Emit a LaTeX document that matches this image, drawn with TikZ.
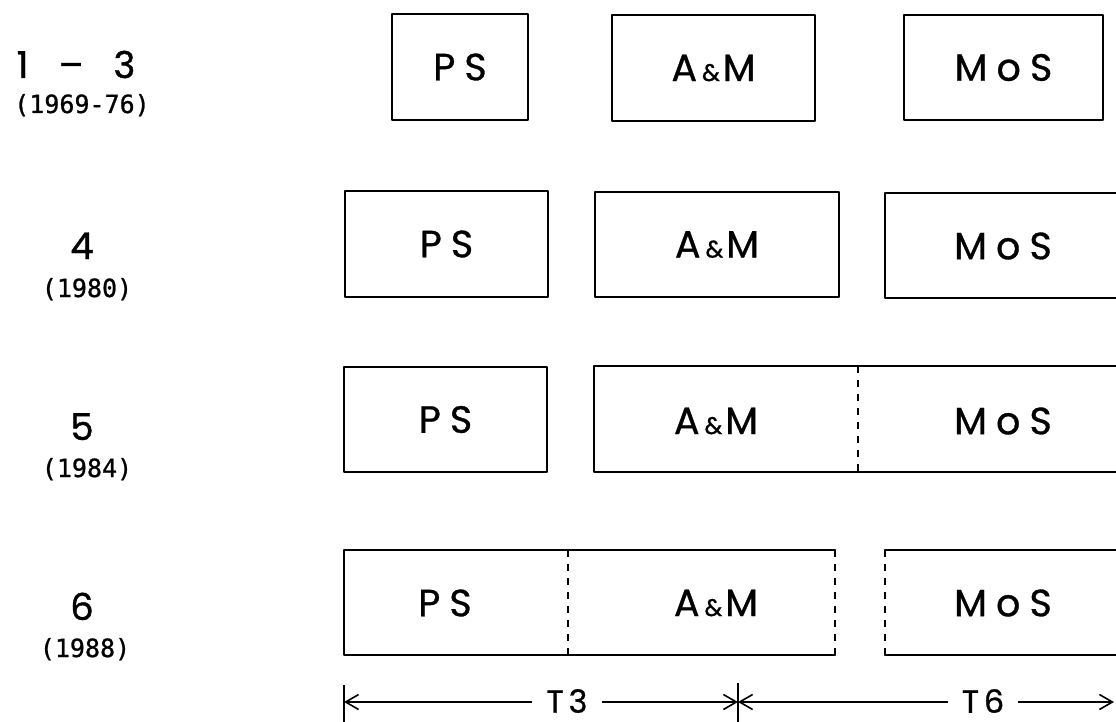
\documentclass[tikz,border=0pt]{standalone}
\usepackage{fontspec}
\usetikzlibrary{arrows.meta}
\newfontfamily\geofont[FakeBold=1]{Poppins}
\newfontfamily\boxfont[LetterSpace=24,FakeBold=0.8]{Poppins}
\newfontfamily\dimfont[LetterSpace=15,FakeBold=0.8]{Poppins}
\newfontfamily\yearfont[FakeBold=1]{DejaVu Sans Mono}
\newcommand{\amp}{A\hspace{5pt}{\fontsize{24}{25}\selectfont\&}\hspace{3pt}M}
\begin{document}
\begin{tikzpicture}[x=1pt,y=-1pt,
  outline/.style={line width=2.4pt, line join=round, line cap=round},
  dashline/.style={line width=2.4pt, dash pattern=on 7pt off 7pt},
  boxnode/.style={draw, outline, inner sep=0pt},
  lab/.style={font=\boxfont\fontsize{38}{40}\selectfont, inner sep=0pt},
  rownum/.style={font=\geofont\fontsize{37}{39}\selectfont, inner sep=0pt, anchor=base},
  year/.style={font=\yearfont\fontsize{25}{27}\selectfont, inner sep=0pt, anchor=base},
  dimlabel/.style={font=\dimfont\fontsize{32}{34}\selectfont, inner sep=0pt},
  dim/.style={line width=1.6pt},
  tip/.style={-{Straight Barb[length=13pt,width=15pt,line width=1.6pt]}}
]
\useasboundingbox (0,0) rectangle (1116,722);

% row labels
\node[rownum] (n1) at (76,78) {1\hspace{30pt}–\hspace{30pt}3};
\node[year] (y1) at (82,113) {(1969-76)};
\node[rownum] (n2) at (82,259) {4};
\node[year] (y2) at (87,297) {(1980)};
\node[rownum] (n3) at (82,440) {5};
\node[year] (y3) at (87,477) {(1984)};
\node[rownum] (n4) at (82,620) {6};
\node[year] (y4) at (85,657) {(1988)};

% row 1
\node[boxnode, lab, minimum width=136pt, minimum height=106pt] (ps1) at (460,67) {PS};
\node[boxnode, lab, minimum width=203pt, minimum height=106pt] (am1) at (713.5,68) {\amp};
\node[boxnode, lab, minimum width=199pt, minimum height=105pt] (mos1) at (1003.5,67.5) {MoS};

% row 2
\node[boxnode, lab, minimum width=203pt, minimum height=106pt] (ps2) at (446.5,244) {PS};
\node[boxnode, lab, minimum width=244pt, minimum height=105pt] (am2) at (717,244.5) {\amp};
\draw[outline] (1120,193) -- (885,193) -- (885,298) -- (1120,298);
\node[lab] (mos2) at (1003,246) {MoS};

% row 3
\node[boxnode, lab, minimum width=203pt, minimum height=105pt] (ps3) at (445.5,419.5) {PS};
\draw[outline] (1120,366) -- (594,366) -- (594,472) -- (1120,472);
\draw[dashline] (858,366) -- (858,472);
\node[lab] (am3) at (716,421) {\amp};
\node[lab] (mos3) at (1003,421) {MoS};

% row 4
\draw[outline] (835,550) -- (344,550) -- (344,655) -- (835,655);
\draw[dashline] (568,550) -- (568,655);
\draw[dashline] (835,550) -- (835,655);
\node[lab] (ps4) at (445,603) {PS};
\node[lab] (am4) at (716,603) {\amp};
\draw[outline] (1120,550) -- (885,550);
\draw[outline] (885,655) -- (1120,655);
\draw[dashline] (885,550) -- (885,655);
\node[lab] (mos4) at (1003,603) {MoS};

% dimension line
\node[dimlabel] (t3) at (567,701) {T3};
\node[dimlabel] (t6) at (983,701) {T6};
\coordinate (dl) at (344,702);
\coordinate (dm) at (738,702);
\coordinate (dr) at (1114,702);
\draw[dim] (344,685) -- (344,722);
\draw[dim] (738,683) -- (738,722);
\draw[dim, tip] ([xshift=-14pt]t3.west |- dl) -- (dl);
\draw[dim, tip] ([xshift=14pt]t3.east |- dm) -- (dm);
\draw[dim, tip] ([xshift=-14pt]t6.west |- dm) -- (dm);
\draw[dim, tip] ([xshift=14pt]t6.east |- dr) -- (dr);
\end{tikzpicture}
\end{document}
